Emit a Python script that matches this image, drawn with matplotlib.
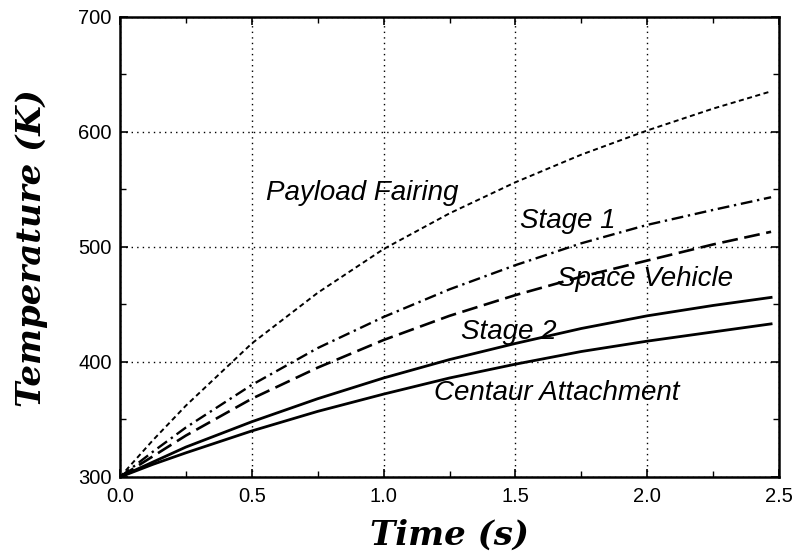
import matplotlib
matplotlib.use("Agg")
import matplotlib.pyplot as plt
from matplotlib.ticker import MultipleLocator

# Data
time_s = [0.0, 0.125, 0.25, 0.5, 0.75, 1.0, 1.25, 1.5, 1.75, 2.0, 2.25, 2.47]
payload_fairing = [300, 332, 362, 416, 460, 498, 529, 556, 580, 601, 620, 635]
stage_1 = [300, 322, 343, 380, 412, 439, 463, 484, 503, 519, 532, 543]
space_vehicle = [300, 318, 336, 368, 395, 419, 440, 458, 474, 488, 502, 513]
stage_2 = [300, 313, 326, 348, 368, 386, 402, 416, 429, 440, 449, 456]
centaur_attachment = [300, 311, 321, 340, 357, 372, 386, 398, 409, 418, 426, 433]

labels = ["Payload Fairing", "Stage 1", "Space Vehicle", "Stage 2", "Centaur Attachment"]
label_x = [0.92, 1.70, 1.99, 1.476, 1.655]
label_y = [547, 522, 472, 426, 373]

x_ticks = [0.0, 0.5, 1.0, 1.5, 2.0, 2.5]
y_ticks = [300, 400, 500, 600, 700]

fig = plt.figure(figsize=(8, 5.54), dpi=100)
ax = fig.add_axes([0.15, 0.139, 0.82375, 0.8312])

ax.plot(time_s, payload_fairing, color="black", lw=1.4, linestyle=(0, (2.6, 1.8)))
ax.plot(time_s, stage_1, color="black", lw=1.7, linestyle=(0, (5, 2, 1, 2)))
ax.plot(time_s, space_vehicle, color="black", lw=1.9, linestyle=(0, (6, 2.5)))
ax.plot(time_s, stage_2, color="black", lw=2.0, linestyle="-")
ax.plot(time_s, centaur_attachment, color="black", lw=2.0, linestyle="-")

for txt, lx, ly in zip(labels, label_x, label_y):
    ax.text(lx, ly, txt, ha="center", va="center", fontsize=20,
            family="Liberation Sans", style="italic", color="black")

ax.set_xlim(0, 2.5)
ax.set_ylim(300, 700)
ax.set_xticks(x_ticks)
ax.set_yticks(y_ticks)
ax.set_xticklabels([f"{v:.1f}" for v in x_ticks])
ax.set_yticklabels([str(v) for v in y_ticks])
ax.xaxis.set_minor_locator(MultipleLocator(0.25))
ax.yaxis.set_minor_locator(MultipleLocator(50))

ax.tick_params(which="both", direction="in", top=True, right=True, color="black")
ax.tick_params(which="major", length=6, width=1.2)
ax.tick_params(which="minor", length=4, width=1.0)
ax.tick_params(axis="x", which="major", pad=7)
ax.tick_params(axis="y", which="major", pad=6)
for lab in ax.get_xticklabels() + ax.get_yticklabels():
    lab.set_fontfamily("Liberation Sans")
    lab.set_fontsize(14.5)

ax.grid(True, which="major", color="black", linestyle=(0, (1, 3)), linewidth=1.0)
for sp in ax.spines.values():
    sp.set_linewidth(1.8)
    sp.set_color("black")

fig.text(449.5 / 800, 1 - 535 / 554, "Time (s)", ha="center", va="center",
         fontsize=24.5, family="DejaVu Serif", weight="bold", style="italic")
fig.text(32 / 800, 1 - 248 / 554, "Temperature (K)", ha="center", va="center",
         rotation=90, fontsize=24.5, family="DejaVu Serif", weight="bold", style="italic")

fig.savefig("out.png", dpi=100)
